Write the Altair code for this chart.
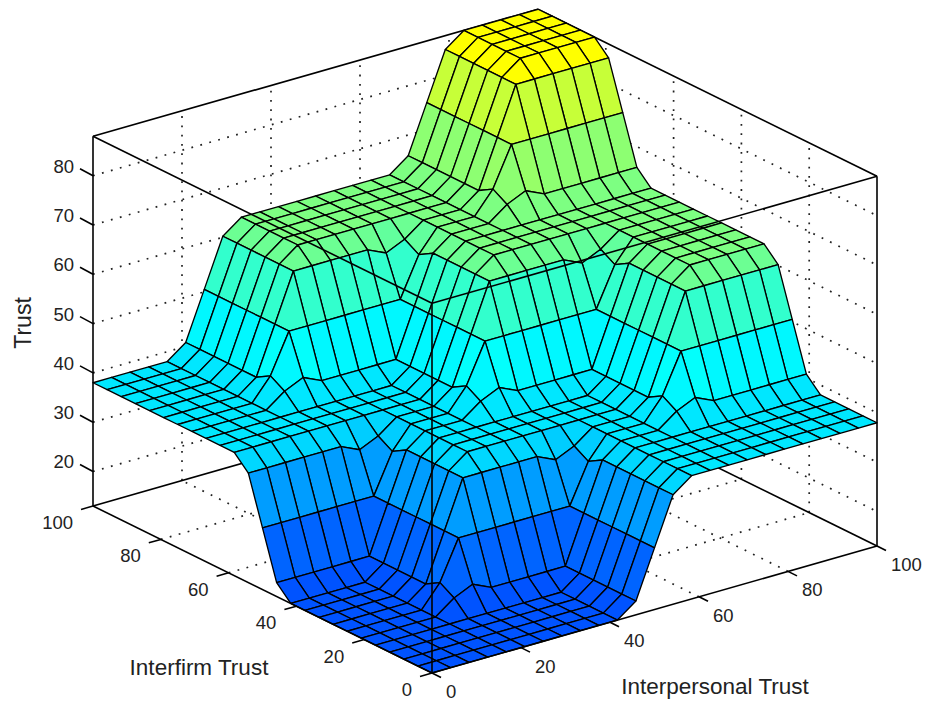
import altair as alt
import pandas as pd

# ---- data -----------------------------------------------------------------
axis_x = [0, 4.17, 8.33, 12.5, 16.67, 20.83, 25, 29.17, 33.33, 37.5, 41.67, 45.83, 50,
          54.17, 58.33, 62.5, 66.67, 70.83, 75, 79.17, 83.33, 87.5, 91.67, 95.83, 100]

r_f0 = [13,13,13,13,13, 13,13,13, 13,13,13, 15.8,25.5,35.2, 38,38,38, 38,38,38, 38,38,38,38,38]
r_a1 = [13,13,13,13,13, 15.8,17.5,15.8, 15.8,15.8,15.8, 15.8,25.5,35.2, 38,38,38, 40.8,42.5,40.8, 40.8,40.8,40.8,40.8,40.8]
r_a2 = [13,13,13,13,13, 17.5,25.5,25.5, 25.5,25.5,25.5, 25.5,25.5,33.5, 38,38,38, 42.5,50.5,50.5, 50.5,50.5,50.5,50.5,50.5]
r_a3 = [13,13,13,13,13, 15.8,25.5,35.2, 35.2,35.2,35.2, 35.2,33.5,35.2, 38,38,38, 40.8,50.5,60.2, 60.2,60.2,60.2,60.2,60.2]
r_f1 = [13,13,13,13,13, 15.8,25.5,35.2, 38,38,38, 38,38,38, 38,38,38, 40.8,50.5,60.2, 63,63,63,63,63]
r_b1 = [15.8,15.8,15.8,15.8,15.8, 15.8,25.5,35.2, 38,38,38, 40.8,42.5,40.8, 40.8,40.8,40.8, 40.8,50.5,60.2, 63,63,63,63,63]
r_b2 = [25.5,25.5,25.5,25.5,25.5, 25.5,25.5,33.5, 38,38,38, 42.5,50.5,50.5, 50.5,50.5,50.5, 50.5,50.5,58.5, 63,63,63,63,63]
r_b3 = [35.2,35.2,35.2,35.2,35.2, 35.2,33.5,35.2, 38,38,38, 40.8,50.5,60.2, 60.2,60.2,60.2, 60.2,58.5,60.2, 63,63,63,63,63]
r_f2 = [38,38,38,38,38, 38,38,38, 38,38,38, 40.8,50.5,60.2, 63,63,63, 63,63,63, 63,63,63,63,63]
r_c1 = [38,38,38,38,38, 40.8,42.5,40.8, 40.8,40.8,40.8, 40.8,50.5,60.2, 63,63,63, 65.8,67.5,65.8, 65.8,65.8,65.8,65.8,65.8]
r_c2 = [38,38,38,38,38, 42.5,50.5,50.5, 50.5,50.5,50.5, 50.5,50.5,58.5, 63,63,63, 67.5,75.5,75.5, 75.5,75.5,75.5,75.5,75.5]
r_c3 = [38,38,38,38,38, 40.8,50.5,60.2, 60.2,60.2,60.2, 60.2,58.5,60.2, 63,63,63, 65.8,75.5,85.2, 85.2,85.2,85.2,85.2,85.2]
r_f3 = [38,38,38,38,38, 40.8,50.5,60.2, 63,63,63, 63,63,63, 63,63,63, 65.8,75.5,85.2, 88,88,88,88,88]

trust_rows = ([r_f0]*5 + [r_a1, r_a2, r_a3] + [r_f1]*3 + [r_b1, r_b2, r_b3]
              + [r_f2]*3 + [r_c1, r_c2, r_c3] + [r_f3]*5)

xy_ticks = [0, 20, 40, 60, 80, 100]
z_ticks = [20, 30, 40, 50, 60, 70, 80]
z_floor, z_top = 13, 88

# ---- 3-D view: the axonometric projection used for every mark -------------
def project(x, y, z):
    return (432 + 4.45 * x - 3.39 * y,
            673 - 1.27 * x - 1.67 * y - 4.93 * (z - z_floor))

# ---- surface patches, painted from the back corner to the front -----------
rows = []
n = len(axis_x)
order = sorted(((i, j) for i in range(n - 1) for j in range(n - 1)),
               key=lambda p: -(p[0] + p[1]))
for q, (i, j) in enumerate(order):
    c = trust_rows[j][i]
    for k, (a, b) in enumerate([(i, j), (i + 1, j), (i + 1, j + 1), (i, j + 1), (i, j)]):
        px, py = project(axis_x[a], axis_x[b], trust_rows[b][a])
        rows.append(dict(px=px, py=py, quad=q, k=k, c=c))
surface_df = pd.DataFrame(rows)

def segs(items):
    out = []
    for s, (p0, p1) in enumerate(items):
        out.append(dict(px=p0[0], py=p0[1], s=s, k=0))
        out.append(dict(px=p1[0], py=p1[1], s=s, k=1))
    return pd.DataFrame(out)

inner = [20, 40, 60, 80]
P = project
grid = []
for v in inner:
    grid += [(P(v, 0, z_floor), P(v, 100, z_floor)), (P(0, v, z_floor), P(100, v, z_floor)),
             (P(v, 100, z_floor), P(v, 100, z_top)), (P(100, v, z_floor), P(100, v, z_top))]
for z in z_ticks:
    grid += [(P(0, 100, z), P(100, 100, z)), (P(100, 100, z), P(100, 0, z))]

back = [(P(0, 100, z_floor), P(100, 100, z_floor)), (P(100, 100, z_floor), P(100, 0, z_floor)),
        (P(0, 100, z_top), P(100, 100, z_top)), (P(100, 100, z_top), P(100, 0, z_top)),
        (P(100, 100, z_floor), P(100, 100, z_top))]

front = [(P(0, 100, z_floor), P(0, 100, z_top)), (P(100, 0, z_floor), P(100, 0, z_top)),
         (P(0, 0, z_floor), P(0, 0, z_top)), (P(0, 100, z_top), P(0, 0, z_top)),
         (P(100, 0, z_top), P(0, 0, z_top)), (P(0, 100, z_floor), P(0, 0, z_floor)),
         (P(100, 0, z_floor), P(0, 0, z_floor))]

ticks = []
labels = []
for z in z_ticks:
    a = P(0, 100, z)
    ticks.append((a, (a[0] - 13, a[1] - 7)))
    labels.append(dict(px=a[0] - 19, py=a[1] - 9, t=str(z), al="right"))
for v in xy_ticks:
    a = P(0, v, z_floor)
    ticks.append((a, (a[0] - 12, a[1] + 3.4)))
    labels.append(dict(px=a[0] - 20, py=a[1] + 17, t=str(v), al="right"))
    b = P(v, 0, z_floor)
    ticks.append((b, (b[0] + 9, b[1] + 4.5)))
    labels.append(dict(px=b[0] + 14, py=b[1] + 19, t=str(v), al="left"))
labels_df = pd.DataFrame(labels)

titles_df = pd.DataFrame([
    dict(px=199, py=668, t="Interfirm Trust"),
    dict(px=715, py=687, t="Interpersonal Trust"),
])
ztitle_df = pd.DataFrame([dict(px=24, py=323, t="Trust")])

# ---- chart ----------------------------------------------------------------
X = alt.X("px:Q", axis=None, scale=alt.Scale(domain=[8, 927], nice=False, zero=False))
Y = alt.Y("py:Q", axis=None, scale=alt.Scale(domain=[702, 8], nice=False, zero=False))

def seg_layer(df, **mark):
    return alt.Chart(df).mark_line(**mark).encode(
        x=X, y=Y, detail="s:N", order="k:Q")

grid_l = seg_layer(segs(grid), color="#222222", strokeWidth=1.7, strokeDash=[1.8, 7.5])
back_l = seg_layer(segs(back), color="#000000", strokeWidth=1.7)
surface_l = alt.Chart(surface_df).mark_line(stroke="#000000", strokeWidth=1.35, strokeJoin="round").encode(
    x=X, y=Y, detail="quad:N", order="k:Q",
    fill=alt.Fill("c:Q", legend=None,
                  scale=alt.Scale(domain=[-1, 42, 85], range=["#0000ff", "#00ffff", "#ffff00"],
                                  clamp=True, interpolate="rgb")),
)
front_l = seg_layer(segs(front + ticks), color="#000000", strokeWidth=1.6)

font = "Liberation Sans"
labels_r = alt.Chart(labels_df[labels_df.al == "right"]).mark_text(
    font=font, fontSize=18.5, align="right", baseline="middle", color="#222222"
).encode(x=X, y=Y, text="t:N")
labels_l = alt.Chart(labels_df[labels_df.al == "left"]).mark_text(
    font=font, fontSize=18.5, align="left", baseline="middle", color="#222222"
).encode(x=X, y=Y, text="t:N")
titles = alt.Chart(titles_df).mark_text(
    font=font, fontSize=22.5, align="center", baseline="middle", color="#222222"
).encode(x=X, y=Y, text="t:N")
ztitle = alt.Chart(ztitle_df).mark_text(
    font=font, fontSize=23, align="center", baseline="middle", angle=270, color="#222222"
).encode(x=X, y=Y, text="t:N")

chart = alt.layer(grid_l, back_l, surface_l, front_l, labels_r, labels_l, titles, ztitle).properties(
    width=919, height=694, padding=0,
    autosize=alt.AutoSizeParams(type="none"),
).configure_view(stroke=None).resolve_scale(x="shared", y="shared")

alt.data_transformers.disable_max_rows()
chart.save("out.html", embed_options={"renderer": "svg", "actions": False})
